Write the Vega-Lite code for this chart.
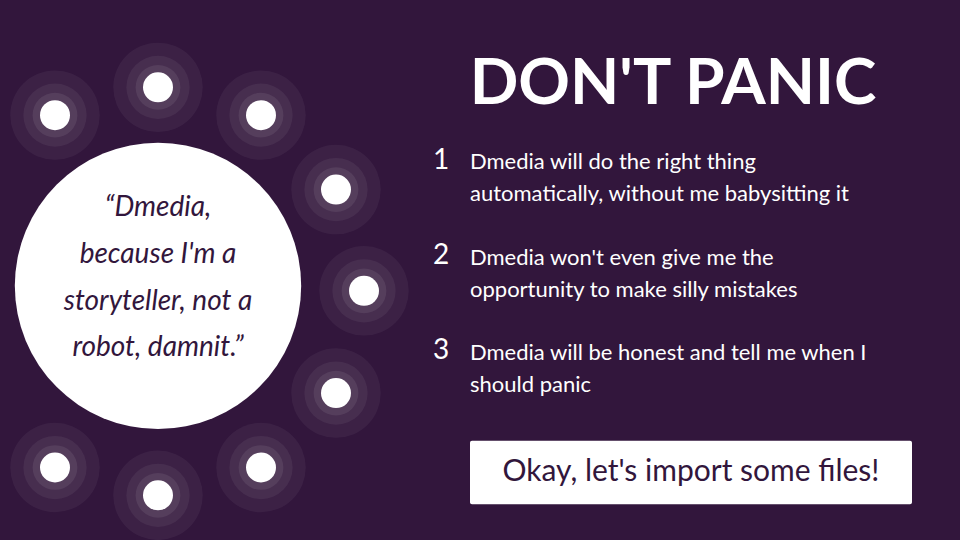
{
  "$schema": "https://vega.github.io/schema/vega-lite/v6.json",
  "width": 960,
  "height": 540,
  "autosize": {"type": "fit", "contains": "padding"},
  "padding": 0,
  "background": "#32163c",
  "config": {"view": {"stroke": null}, "axis": {"disable": true}},
  "datasets": {
    "dots": [
      {"x": 55, "y": 116}, {"x": 158, "y": 88}, {"x": 261, "y": 116},
      {"x": 336, "y": 191}, {"x": 364, "y": 293}, {"x": 336, "y": 396},
      {"x": 261, "y": 471}, {"x": 158, "y": 499}, {"x": 55, "y": 471}
    ],
    "quote": [
      {"x": 158, "y": 210, "t": "“Dmedia,"},
      {"x": 158, "y": 257, "t": "because I'm a"},
      {"x": 158, "y": 304, "t": "storyteller, not a"},
      {"x": 158, "y": 351, "t": "robot, damnit.”"}
    ],
    "nums": [
      {"x": 441, "y": 162, "t": "1"},
      {"x": 441, "y": 258, "t": "2"},
      {"x": 441, "y": 354, "t": "3"}
    ],
    "items": [
      {"x": 470, "y": 163, "t": "Dmedia will do the right thing"},
      {"x": 470, "y": 195, "t": "automatically, without me babysitting it"},
      {"x": 470, "y": 260, "t": "Dmedia won't even give me the"},
      {"x": 470, "y": 292, "t": "opportunity to make silly mistakes"},
      {"x": 470, "y": 356, "t": "Dmedia will be honest and tell me when I"},
      {"x": 470, "y": 388, "t": "should panic"}
    ],
    "button": [{"x": 470, "x2": 912, "y": 444, "y2": 508}],
    "btext": [{"x": 691, "y": 476, "t": "Okay, let's import some files!"}],
    "title": [{"x": 673, "y": 86, "t": "DON'T PANIC"}]
  },
  "encoding": {
    "x": {"field": "x", "type": "quantitative", "scale": {"domain": [0, 960], "nice": false, "zero": false}},
    "y": {"field": "y", "type": "quantitative", "scale": {"domain": [0, 540], "nice": false, "zero": false, "reverse": true}}
  },
  "layer": [
    {"data": {"name": "dots"}, "mark": {"type": "point", "shape": "circle", "filled": true, "color": "#ffffff", "opacity": 0.05, "size": 8000}},
    {"data": {"name": "dots"}, "mark": {"type": "point", "shape": "circle", "filled": true, "color": "#ffffff", "opacity": 0.06, "size": 4000}},
    {"data": {"name": "dots"}, "mark": {"type": "point", "shape": "circle", "filled": true, "color": "#ffffff", "opacity": 0.08, "size": 2000}},
    {"data": {"name": "dots"}, "mark": {"type": "point", "shape": "circle", "filled": true, "color": "#ffffff", "opacity": 1, "size": 900}},
    {"data": {"values": [{"x": 158, "y": 288}]}, "mark": {"type": "point", "shape": "circle", "filled": true, "color": "#ffffff", "opacity": 1, "size": 82000}},
    {"data": {"name": "quote"}, "mark": {"type": "text", "font": "Lato", "fontStyle": "italic", "fontSize": 28, "color": "#32163c", "align": "center", "baseline": "middle"}, "encoding": {"text": {"field": "t"}}},
    {"data": {"name": "title"}, "mark": {"type": "text", "font": "Lato", "fontWeight": "bold", "fontSize": 64, "color": "#ffffff", "align": "center", "baseline": "middle"}, "encoding": {"text": {"field": "t"}}},
    {"data": {"name": "nums"}, "mark": {"type": "text", "font": "Lato", "fontSize": 28, "color": "#ffffff", "align": "center", "baseline": "middle"}, "encoding": {"text": {"field": "t"}}},
    {"data": {"name": "items"}, "mark": {"type": "text", "font": "Lato", "fontSize": 22, "color": "#ffffff", "align": "left", "baseline": "middle"}, "encoding": {"text": {"field": "t"}}},
    {"data": {"name": "button"}, "mark": {"type": "rect", "color": "#ffffff", "cornerRadius": 2}, "encoding": {"x2": {"field": "x2"}, "y2": {"field": "y2"}}},
    {"data": {"name": "btext"}, "mark": {"type": "text", "font": "Lato", "fontSize": 30, "color": "#32163c", "align": "center", "baseline": "middle"}, "encoding": {"text": {"field": "t"}}}
  ]
}
